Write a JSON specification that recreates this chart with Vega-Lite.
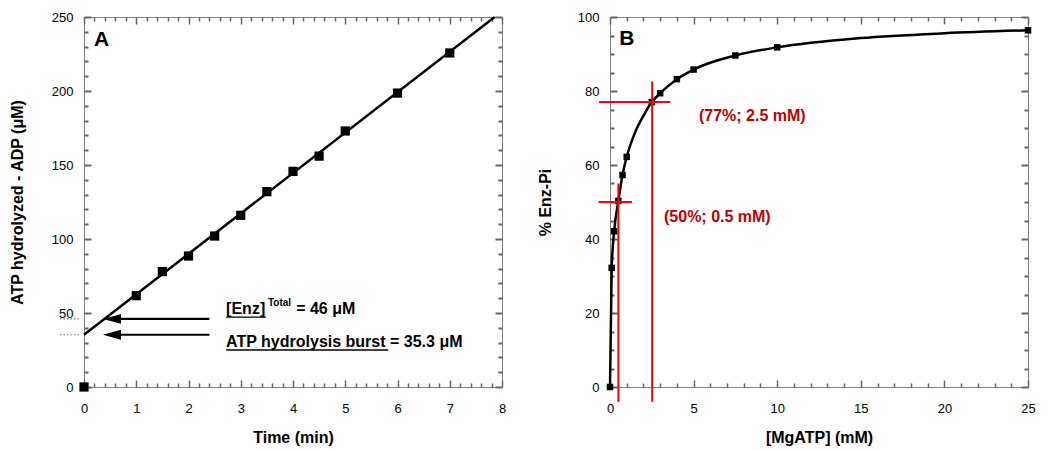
{
  "$schema": "https://vega.github.io/schema/vega-lite/v6.json",
  "background": "white",
  "padding": {"left": 8, "top": 10, "right": 5, "bottom": 5},
  "bounds": "flush",
  "spacing": 108,
  "config": {
    "font": "Liberation Sans",
    "view": {"stroke": "#808080", "strokeWidth": 1},
    "axis": {
      "domain": false, "grid": false, "tickColor": "#666666", "tickWidth": 1.5,
      "labelColor": "#000000", "labelFont": "Liberation Sans", "labelFontSize": 13,
      "titleFont": "Liberation Sans", "titleFontSize": 16, "titleFontWeight": "bold", "titleColor": "#000000",
      "labelFlush": false, "labelOverlap": false
    }
  },
  "hconcat": [
    {
      "width": 418, "height": 370,
      "resolve": {"axis": {"x": "independent", "y": "independent"}},
      "layer": [
        {
          "data": {"values": [{"t": 0, "v": 35.3}, {"t": 7.86, "v": 250}]},
          "mark": {"type": "line", "color": "#000000", "strokeWidth": 2.5},
          "encoding": {
            "x": {"field": "t", "type": "quantitative", "scale": {"domain": [0, 8], "nice": false, "zero": false},
              "axis": {"orient": "bottom", "title": "Time (min)", "values": [0, 1, 2, 3, 4, 5, 6, 7, 8], "ticks": false, "labelPadding": 15, "titlePadding": 14, "format": "d"}},
            "y": {"field": "v", "type": "quantitative", "scale": {"domain": [0, 250], "nice": false, "zero": false},
              "axis": {"orient": "left", "title": "ATP hydrolyzed - ADP (μM)", "values": [0, 50, 100, 150, 200, 250], "ticks": false, "labelPadding": 11, "titlePadding": 26, "format": "d"}}
          }
        },
        {
          "data": {"values": [
            {"t": 0, "v": 0}, {"t": 1, "v": 61.7}, {"t": 1.5, "v": 78}, {"t": 2, "v": 88.5}, {"t": 2.5, "v": 102},
            {"t": 3, "v": 116}, {"t": 3.5, "v": 132}, {"t": 4, "v": 145.7}, {"t": 4.5, "v": 156}, {"t": 5, "v": 173},
            {"t": 6, "v": 198.6}, {"t": 7, "v": 225.7}
          ]},
          "mark": {"type": "square", "color": "#000000", "filled": true, "opacity": 1, "size": 85},
          "encoding": {
            "x": {"field": "t", "type": "quantitative",
              "axis": {"orient": "bottom", "title": null, "labels": false, "ticks": true, "tickColor": "#666666", "tickWidth": 1.5, "values": [0, 1, 2, 3, 4, 5, 6, 7, 8], "tickSize": -7}},
            "y": {"field": "v", "type": "quantitative",
              "axis": {"orient": "left", "title": null, "labels": false, "ticks": true, "tickColor": "#666666", "tickWidth": 2, "values": [0, 50, 100, 150, 200, 250], "tickSize": -7}}
          }
        },
        {
          "data": {"values": [{"x1": 0.62, "x2": 2.4, "y": 46}, {"x1": 0.62, "x2": 2.4, "y": 35.3}]},
          "mark": {"type": "rule", "color": "#000000", "strokeWidth": 2.2},
          "encoding": {
            "x": {"field": "x1", "type": "quantitative",
              "axis": {"orient": "bottom", "title": null, "labels": false, "ticks": true, "tickColor": "#666666", "tickWidth": 1.5, "tickSize": -4,
                "values": [0.2, 0.4, 0.6, 0.8, 1.2, 1.4, 1.6, 1.8, 2.2, 2.4, 2.6, 2.8, 3.2, 3.4, 3.6, 3.8, 4.2, 4.4, 4.6, 4.8, 5.2, 5.4, 5.6, 5.8, 6.2, 6.4, 6.6, 6.8, 7.2, 7.4, 7.6, 7.8]}},
            "x2": {"field": "x2"},
            "y": {"field": "y", "type": "quantitative",
              "axis": {"orient": "left", "title": null, "labels": false, "ticks": true, "tickColor": "#666666", "tickWidth": 2, "tickSize": -4,
                "values": [10, 20, 30, 40, 60, 70, 80, 90, 110, 120, 130, 140, 160, 170, 180, 190, 210, 220, 230, 240]}}
          }
        },
        {
          "data": {"values": [{"x": 0.535, "y": 46}, {"x": 0.535, "y": 35.3}]},
          "mark": {"type": "point", "shape": "M -1 0 L 1 -0.55 L 1 0.55 Z", "filled": true, "color": "#000000", "opacity": 1, "size": 324},
          "encoding": {
            "x": {"field": "x", "type": "quantitative",
              "axis": {"orient": "top", "title": null, "labels": false, "ticks": true, "tickColor": "#666666", "tickWidth": 1.5, "values": [0, 1, 2, 3, 4, 5, 6, 7, 8], "tickSize": -7}},
            "y": {"field": "y", "type": "quantitative",
              "axis": {"orient": "right", "title": null, "labels": false, "ticks": true, "tickColor": "#666666", "tickWidth": 2, "values": [0, 50, 100, 150, 200, 250], "tickSize": -7}}
          }
        },
        {
          "data": {"values": [{"x1": -0.46, "x2": -0.08, "y": 46}, {"x1": -0.46, "x2": -0.08, "y": 35.3}]},
          "mark": {"type": "rule", "color": "#777777", "strokeWidth": 1.2, "strokeDash": [1.5, 2]},
          "encoding": {
            "x": {"field": "x1", "type": "quantitative",
              "axis": {"orient": "top", "title": null, "labels": false, "ticks": true, "tickColor": "#666666", "tickWidth": 1.5, "tickSize": -4,
                "values": [0.2, 0.4, 0.6, 0.8, 1.2, 1.4, 1.6, 1.8, 2.2, 2.4, 2.6, 2.8, 3.2, 3.4, 3.6, 3.8, 4.2, 4.4, 4.6, 4.8, 5.2, 5.4, 5.6, 5.8, 6.2, 6.4, 6.6, 6.8, 7.2, 7.4, 7.6, 7.8]}},
            "x2": {"field": "x2"},
            "y": {"field": "y", "type": "quantitative",
              "axis": {"orient": "right", "title": null, "labels": false, "ticks": true, "tickColor": "#666666", "tickWidth": 2, "tickSize": -4,
                "values": [10, 20, 30, 40, 60, 70, 80, 90, 110, 120, 130, 140, 160, 170, 180, 190, 210, 220, 230, 240]}}
          }
        },
        {
          "data": {"values": [{"x1": 2.72, "x2": 3.48, "y": 47.2}, {"x1": 2.72, "x2": 5.82, "y": 25}]},
          "mark": {"type": "rule", "color": "#000000", "strokeWidth": 1.3},
          "encoding": {
            "x": {"field": "x1", "type": "quantitative", "axis": null},
            "x2": {"field": "x2"},
            "y": {"field": "y", "type": "quantitative", "axis": null}
          }
        },
        {
          "data": {"values": [
            {"x": 2.72, "y": 49, "label": "[Enz]"},
            {"x": 4.06, "y": 49, "label": "= 46 μM"},
            {"x": 2.72, "y": 27, "label": "ATP hydrolysis burst = 35.3 μM"}
          ]},
          "mark": {"type": "text", "align": "left", "baseline": "alphabetic", "fontSize": 16, "fontWeight": "bold", "color": "#000000"},
          "encoding": {
            "x": {"field": "x", "type": "quantitative", "axis": null},
            "y": {"field": "y", "type": "quantitative", "axis": null},
            "text": {"field": "label"}
          }
        },
        {
          "data": {"values": [{"x": 3.52, "y": 54.7, "label": "Total"}]},
          "mark": {"type": "text", "align": "left", "baseline": "alphabetic", "fontSize": 10, "fontWeight": "bold", "color": "#000000"},
          "encoding": {
            "x": {"field": "x", "type": "quantitative", "axis": null},
            "y": {"field": "y", "type": "quantitative", "axis": null},
            "text": {"field": "label"}
          }
        },
        {
          "data": {"values": [{"x": 0.19, "y": 230.5, "label": "A"}]},
          "mark": {"type": "text", "align": "left", "baseline": "alphabetic", "fontSize": 21, "fontWeight": "bold", "color": "#000000"},
          "encoding": {
            "x": {"field": "x", "type": "quantitative", "axis": null},
            "y": {"field": "y", "type": "quantitative", "axis": null},
            "text": {"field": "label"}
          }
        }
      ]
    },
    {
      "width": 418, "height": 370,
      "resolve": {"axis": {"x": "independent", "y": "independent"}},
      "layer": [
        {
          "data": {"values": [
            {"c": 0, "p": 0}, {"c": 0.1, "p": 32.2}, {"c": 0.25, "p": 42.1}, {"c": 0.5, "p": 50.3}, {"c": 0.75, "p": 57.3},
            {"c": 1, "p": 62.2}, {"c": 1.5, "p": 68.8}, {"c": 2, "p": 73.3}, {"c": 2.5, "p": 77}, {"c": 3, "p": 79.4},
            {"c": 4, "p": 83.2}, {"c": 5, "p": 85.8}, {"c": 7.5, "p": 89.6}, {"c": 10, "p": 91.8}, {"c": 15, "p": 94.3},
            {"c": 20, "p": 95.6}, {"c": 25, "p": 96.4}
          ]},
          "mark": {"type": "line", "color": "#000000", "strokeWidth": 2.5, "interpolate": "monotone"},
          "encoding": {
            "x": {"field": "c", "type": "quantitative", "scale": {"domain": [0, 25], "nice": false, "zero": false},
              "axis": {"orient": "bottom", "title": "[MgATP] (mM)", "values": [0, 5, 10, 15, 20, 25], "ticks": false, "labelPadding": 15, "titlePadding": 14, "format": "d"}},
            "y": {"field": "p", "type": "quantitative", "scale": {"domain": [0, 100], "nice": false, "zero": false},
              "axis": {"orient": "left", "title": "% Enz-Pi", "values": [0, 20, 40, 60, 80, 100], "ticks": false, "labelPadding": 11, "titlePadding": 24, "format": "d"}}
          }
        },
        {
          "data": {"values": [
            {"c": 0, "p": 0}, {"c": 0.1, "p": 32.2}, {"c": 0.25, "p": 42.1}, {"c": 0.5, "p": 50.3}, {"c": 0.75, "p": 57.3},
            {"c": 1, "p": 62.2}, {"c": 2.5, "p": 77}, {"c": 3, "p": 79.4}, {"c": 4, "p": 83.2}, {"c": 5, "p": 85.8},
            {"c": 7.5, "p": 89.6}, {"c": 10, "p": 91.8}, {"c": 25, "p": 96.4}
          ]},
          "mark": {"type": "square", "color": "#000000", "filled": true, "opacity": 1, "size": 42},
          "encoding": {
            "x": {"field": "c", "type": "quantitative",
              "axis": {"orient": "bottom", "title": null, "labels": false, "ticks": true, "tickColor": "#666666", "tickWidth": 1.5, "values": [0, 5, 10, 15, 20, 25], "tickSize": -7}},
            "y": {"field": "p", "type": "quantitative",
              "axis": {"orient": "left", "title": null, "labels": false, "ticks": true, "tickColor": "#666666", "tickWidth": 2, "values": [0, 20, 40, 60, 80, 100], "tickSize": -7}}
          }
        },
        {
          "data": {"values": [
            {"x1": 0.5, "x2": 0.5, "y1": -4, "y2": 55},
            {"x1": -0.68, "x2": 1.31, "y1": 50, "y2": 50},
            {"x1": 2.52, "x2": 2.52, "y1": -4, "y2": 82.6},
            {"x1": -0.65, "x2": 3.6, "y1": 77, "y2": 77}
          ]},
          "mark": {"type": "rule", "color": "#ff0000", "strokeWidth": 2},
          "encoding": {
            "x": {"field": "x1", "type": "quantitative",
              "axis": {"orient": "bottom", "title": null, "labels": false, "ticks": true, "tickColor": "#666666", "tickWidth": 1.5, "tickSize": -4,
                "values": [1, 2, 3, 4, 6, 7, 8, 9, 11, 12, 13, 14, 16, 17, 18, 19, 21, 22, 23, 24]}},
            "x2": {"field": "x2"},
            "y": {"field": "y1", "type": "quantitative",
              "axis": {"orient": "left", "title": null, "labels": false, "ticks": true, "tickColor": "#666666", "tickWidth": 2, "tickSize": -4,
                "values": [5, 10, 15, 25, 30, 35, 45, 50, 55, 65, 70, 75, 85, 90, 95]}},
            "y2": {"field": "y2"}
          }
        },
        {
          "data": {"values": [
            {"x": 5.32, "y": 71.8, "label": "(77%; 2.5 mM)"},
            {"x": 3.23, "y": 44.5, "label": "(50%; 0.5 mM)"}
          ]},
          "mark": {"type": "text", "align": "left", "baseline": "alphabetic", "fontSize": 16, "fontWeight": "bold", "color": "#c00000"},
          "encoding": {
            "x": {"field": "x", "type": "quantitative",
              "axis": {"orient": "top", "title": null, "labels": false, "ticks": true, "tickColor": "#666666", "tickWidth": 1.5, "values": [0, 5, 10, 15, 20, 25], "tickSize": -7}},
            "y": {"field": "y", "type": "quantitative",
              "axis": {"orient": "right", "title": null, "labels": false, "ticks": true, "tickColor": "#666666", "tickWidth": 2, "values": [0, 20, 40, 60, 80, 100], "tickSize": -7}},
            "text": {"field": "label"}
          }
        },
        {
          "data": {"values": [{"x": 0.56, "y": 92.5, "label": "B"}]},
          "mark": {"type": "text", "align": "left", "baseline": "alphabetic", "fontSize": 21, "fontWeight": "bold", "color": "#000000"},
          "encoding": {
            "x": {"field": "x", "type": "quantitative",
              "axis": {"orient": "top", "title": null, "labels": false, "ticks": true, "tickColor": "#666666", "tickWidth": 1.5, "tickSize": -4,
                "values": [1, 2, 3, 4, 6, 7, 8, 9, 11, 12, 13, 14, 16, 17, 18, 19, 21, 22, 23, 24]}},
            "y": {"field": "y", "type": "quantitative",
              "axis": {"orient": "right", "title": null, "labels": false, "ticks": true, "tickColor": "#666666", "tickWidth": 2, "tickSize": -4,
                "values": [5, 10, 15, 25, 30, 35, 45, 50, 55, 65, 70, 75, 85, 90, 95]}},
            "text": {"field": "label"}
          }
        }
      ]
    }
  ]
}
